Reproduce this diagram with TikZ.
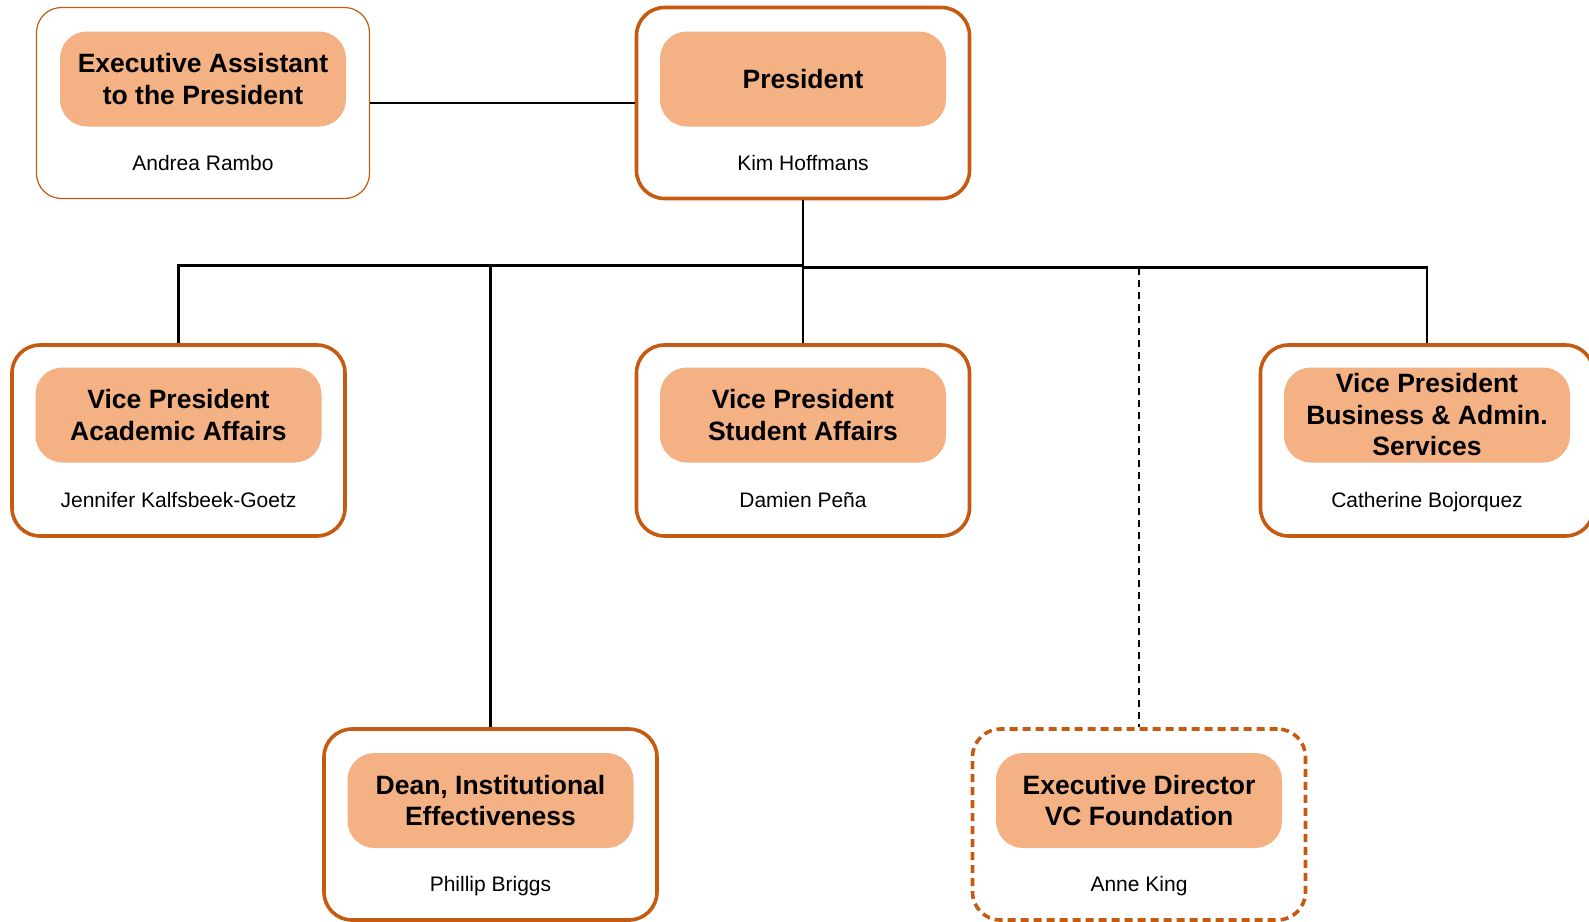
\documentclass[tikz,border=0pt]{standalone}
\usepackage{fontspec}
\setmainfont{Liberation Sans}
\definecolor{boxline}{HTML}{C55A11}
\definecolor{boxfill}{HTML}{F4B183}
\tikzset{
  outerbox/.style={draw=boxline, line width=3.6pt, rounded corners=28pt, minimum width=333pt, minimum height=191pt, fill=white, inner sep=0pt},
  thinbox/.style={outerbox, line width=1.2pt, rounded corners=25pt},
  dashbox/.style={outerbox, dash pattern=on 8pt off 5pt},
  titlebox/.style={fill=boxfill, rounded corners=27pt, minimum width=286pt, minimum height=95pt, align=center, font=\fontsize{26.5}{31.5}\selectfont\bfseries, inner sep=0pt},
  nametext/.style={font=\fontsize{21}{25}\selectfont, inner sep=0pt, text height=15pt, text depth=0pt},
  conn/.style={draw=black, line width=2.4pt},
  dconn/.style={draw=black, line width=2.4pt, dash pattern=on 7pt off 5pt}
}
\begin{document}
\begin{tikzpicture}[x=1pt,y=-1pt]
\useasboundingbox (0,0) rectangle (1589,921);
% outer boxes
\node[thinbox] (ea) at (203,103) {};
\node[outerbox] (pres) at (803,103) {};
\node[outerbox] (vpaa) at (178.5,440.5) {};
\node[outerbox] (vpsa) at (803,440.5) {};
\node[outerbox] (vpba) at (1427,440.5) {};
\node[outerbox] (dean) at (490.5,824.5) {};
\node[dashbox] (ed) at (1139,824.5) {};
% titles
\node[titlebox] (eat) at (203,79) {Executive Assistant\\to the President};
\node[titlebox] (prest) at (803,79) {President};
\node[titlebox] (vpaat) at (178.5,415) {Vice President\\Academic Affairs};
\node[titlebox] (vpsat) at (803,415) {Vice President\\Student Affairs};
\node[titlebox] (vpbat) at (1427,415) {Vice President\\Business \& Admin.\\Services};
\node[titlebox] (deant) at (490.5,800.5) {Dean, Institutional\\Effectiveness};
\node[titlebox] (edt) at (1139,800.5) {Executive Director\\VC Foundation};
% names
\node[nametext] (ean) at (203,163) {Andrea Rambo};
\node[nametext] (presn) at (803,163) {Kim Hoffmans};
\node[nametext] (vpaan) at (178.5,499.5) {Jennifer Kalfsbeek-Goetz};
\node[nametext] (vpsan) at (803,499.5) {Damien Peña};
\node[nametext] (vpban) at (1427,499.5) {Catherine Bojorquez};
\node[nametext] (deann) at (490.5,883.5) {Phillip Briggs};
\node[nametext] (edn) at (1139,883.5) {Anne King};
% junctions
\coordinate (jl) at (803,265.5);
\coordinate (jr) at (803,267.5);
% connectors
\draw[conn] (ea.east) -- (ea.east -| pres.west);
\draw[conn] (pres.south) -- (jr);
\draw[conn] (vpaa.north) |- (jl);
\draw[conn] (dean.north) -- (dean.north |- jl);
\draw[conn] (vpsa.north) -- (jl);
\draw[conn] (jr) -| (vpba.north);
\draw[dconn] (jr) -| (ed.north);
\end{tikzpicture}
\end{document}
